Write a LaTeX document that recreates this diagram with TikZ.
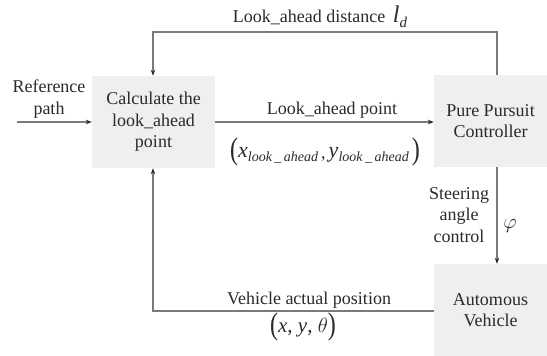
\documentclass[tikz,border=0pt]{standalone}
\usepackage{graphicx}
\usepackage{fontspec}
\setmainfont{LiberationSerif}[Extension=.ttf, UprightFont=*-Regular, ItalicFont=*-Italic, BoldFont=*-Bold, BoldItalicFont=*-BoldItalic]
\usetikzlibrary{arrows.meta}
\definecolor{boxfill}{HTML}{EFEFEF}
\definecolor{wire}{HTML}{7A7A7A}
\definecolor{ink}{HTML}{2A2A2A}
\newcommand{\tallparen}[1]{\scalebox{1}[1.3]{\fontsize{24}{24}\selectfont #1}}
\newcommand{\lasub}{\raisebox{-2pt}{\fontsize{14}{14}\selectfont\textit{look\hspace{2.5pt}\_\hspace{2.5pt}ahead}}}
\tikzset{
  blk/.style={fill=boxfill, draw=none, align=center, text=ink, inner sep=0pt,
    font=\fontsize{18}{21.5}\selectfont},
  wirel/.style={draw=wire, line width=1.2pt},
  arr/.style={wirel, -{Stealth[length=6pt,width=4.5pt,color=ink]}},
  lbl/.style={text=ink, align=center, inner sep=0pt, font=\fontsize{18}{21.5}\selectfont},
}
\begin{document}
\begin{tikzpicture}[x=1pt,y=-1pt]
\useasboundingbox (0,0) rectangle (547,356);
% blocks
\node[blk, minimum width=123pt, minimum height=92pt] (calc) at (153.5,122) {Calculate the\\look\_ahead\\point};
\node[blk, minimum width=113pt, minimum height=92pt] (pp) at (490.5,121) {Pure Pursuit\\Controller};
\node[blk, minimum width=113pt, minimum height=92pt] (veh) at (490.5,310) {Automous\\Vehicle};
% free ends and bends
\coordinate (refin) at (17,122);
\coordinate (tl) at (153,32);
\coordinate (tr) at (497,32);
\coordinate (bl) at (153,311);
% connectors
\draw[arr] (refin) -- (calc.west |- refin);
\draw[arr] (calc.east |- refin) -- (pp.west |- refin);
\draw[arr] (tr |- pp.north) -- (tr) -- (tl) -- (calc.north -| tl);
\draw[arr] (tr |- pp.south) -- (tr |- veh.north);
\draw[arr] (veh.west |- bl) -- (bl) -- (calc.south -| bl);
% labels
\node[lbl] (reflbl) at (49,99) {Reference\\path};
\node[lbl, anchor=base] (ldlbl) at (320,23) {Look\_ahead distance \,{\fontsize{24}{24}\selectfont\textit{l}}\raisebox{-5pt}{\fontsize{15}{15}\selectfont\textit{d}}};
\node[lbl] (lacoord) at (325,152) {\tallparen{(}\raisebox{2pt}{\fontsize{22}{22}\selectfont\textit{x}}\lasub\,\raisebox{1pt}{,}\,\raisebox{2pt}{\fontsize{22}{22}\selectfont\textit{y}}\lasub\,\tallparen{)}};
\node[lbl, anchor=base] (lapt) at (332,114) {Look\_ahead point};
\node[lbl] (steer) at (459,215) {Steering\\angle\\control};
\node[lbl] (phi) at (510,226) {\fontsize{20}{20}\selectfont$\varphi$};
\node[lbl, anchor=base] (vap) at (309,304) {Vehicle actual position};
\node[lbl] (xyt) at (303,327) {\tallparen{(}\raisebox{2pt}{\fontsize{21}{21}\selectfont\textit{x}, \textit{y}, $\theta$}\tallparen{)}};
\end{tikzpicture}
\end{document}
